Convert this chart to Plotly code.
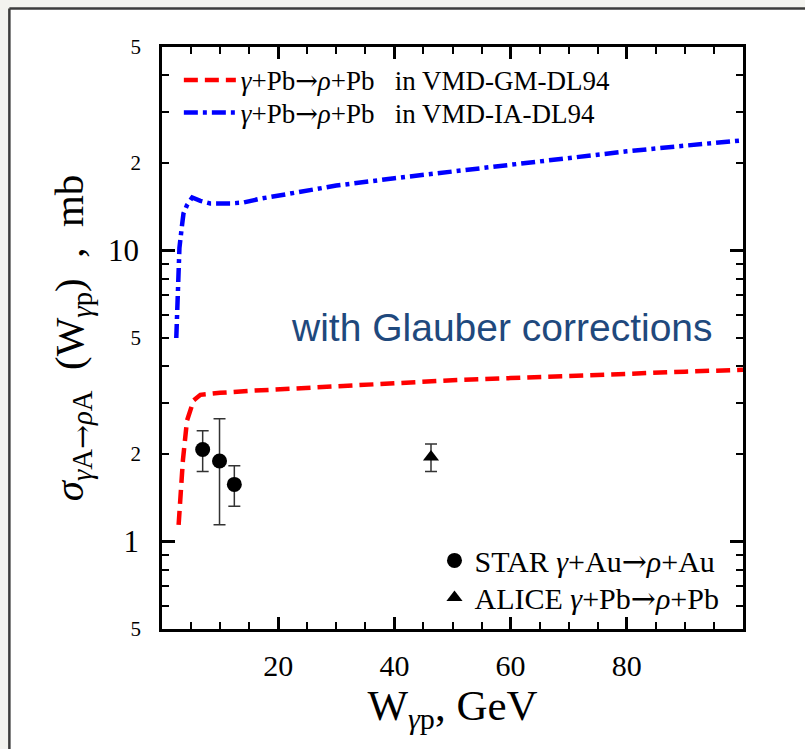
import plotly.graph_objects as go

# Theory curves: W_gamma_p (GeV) vs sigma (mb)
w_gm = [2.86, 3.0, 3.27, 3.6, 4.3, 5.0, 5.44, 6.6, 8.0, 10, 15, 20, 25, 30, 40, 50, 60, 70, 80, 90, 100]
sig_gm = [1.14, 1.25, 1.46, 1.90, 2.60, 2.92, 3.05, 3.19, 3.22, 3.24, 3.29, 3.33, 3.37, 3.42, 3.50, 3.58, 3.64, 3.71, 3.77, 3.83, 3.89]

w_ia = [2.46, 2.7, 3.0, 3.4, 3.7, 4.3, 5.2, 6.6, 8.3, 11.75, 14, 16.9, 20, 25.5, 30, 40, 50, 60, 70, 80, 90, 100]
sig_ia = [5.0, 7.0, 10.2, 12.0, 13.4, 14.3, 15.2, 14.8, 14.5, 14.5, 14.6, 15.05, 15.4, 16.1, 16.7, 17.7, 18.7, 19.7, 20.8, 21.9, 22.9, 23.9]

# Measurements
w_star = [7.0, 9.9, 12.45]
sig_star = [2.07, 1.89, 1.57]
err_star = [0.33, 0.75, 0.25]

w_alice = [46.3]
sig_alice = [1.95]
err_alice = [0.21]

# Axis tick values / labels
x_major = [20, 40, 60, 80]
y_major = [1, 10]
y_major_text = ["1", "10"]
y_minor = [0.6, 0.7, 0.8, 0.9, 2, 3, 4, 5, 6, 7, 8, 9, 20, 30, 40]
y_small = [0.5, 2, 5, 20, 50]
y_small_text = ["5", "2", "5", "2", "5"]

SERIF = "Liberation Serif"
ARROW = "<span style=\"font-family:DejaVu Serif\">→</span>"


def reaction(a):
    return "<i>γ</i>+" + a + ARROW + "<i>ρ</i>+" + a


fig = go.Figure()

fig.add_trace(go.Scatter(
    x=w_gm, y=sig_gm, mode="lines",
    line=dict(color="#ff0000", width=4.5, dash="14px,7px"),
    name=reaction("Pb") + "&nbsp;&nbsp; in VMD-GM-DL94",
    legend="legend", showlegend=True,
))
fig.add_trace(go.Scatter(
    x=w_ia, y=sig_ia, mode="lines",
    line=dict(color="#0000ff", width=4.5, dash="14px,5px,4px,5px"),
    name=reaction("Pb") + "&nbsp;&nbsp; in VMD-IA-DL94",
    legend="legend3", showlegend=True,
))
fig.add_trace(go.Scatter(
    x=w_star, y=sig_star, mode="markers", yaxis="y2",
    marker=dict(symbol="circle", size=15, color="black"),
    error_y=dict(type="data", array=err_star, color="#333333", thickness=1.5, width=6),
    name="STAR " + reaction("Au"),
    legend="legend2", showlegend=True,
))
fig.add_trace(go.Scatter(
    x=w_alice, y=sig_alice, mode="markers", yaxis="y2",
    marker=dict(symbol="triangle-up", size=14, color="black"),
    error_y=dict(type="data", array=err_alice, color="#333333", thickness=1.5, width=6),
    name="ALICE " + reaction("Pb"),
    legend="legend4", showlegend=True,
))

yr = [-0.30103, 1.69897]

line_legend = dict(xanchor="left", yanchor="middle", bgcolor="rgba(0,0,0,0)",
                   borderwidth=0, itemwidth=52, font=dict(family=SERIF, size=27))
mark_legend = dict(xanchor="left", yanchor="middle", bgcolor="rgba(0,0,0,0)",
                   borderwidth=0, font=dict(family=SERIF, size=30))

# Frame around the page panel
px_l, px_r, px_t, px_b = -0.2627, 1.3, 1.0663, -0.35

fig.update_layout(
    width=805, height=749,
    showlegend=True,
    margin=dict(l=162, r=62, t=47, b=120),
    paper_bgcolor="white",
    plot_bgcolor="white",
    font=dict(family=SERIF, color="black"),
    xaxis=dict(
        range=[0, 100], showline=True, linewidth=2.5, linecolor="black", mirror="ticks",
        showgrid=False, zeroline=False,
        tickmode="array", tickvals=x_major, ticks="inside", ticklen=12, tickwidth=2.5,
        tickcolor="black", tickfont=dict(family=SERIF, size=30), ticklabelstandoff=8,
        minor=dict(dtick=5, tick0=0, ticks="inside", ticklen=7, tickwidth=1.5, tickcolor="black"),
        title=dict(text="W<sub><i>γ</i>p</sub>, GeV", font=dict(family=SERIF, size=43), standoff=10),
    ),
    yaxis=dict(
        type="log", range=yr, showline=True, linewidth=2.5, linecolor="black", mirror="ticks",
        showgrid=False, zeroline=False,
        tickmode="array", tickvals=y_major, ticktext=y_major_text,
        ticks="inside", ticklen=13, tickwidth=2.5, tickcolor="black",
        tickfont=dict(family=SERIF, size=31), ticklabelstandoff=14,
        minor=dict(tickmode="array", tickvals=y_minor, ticks="inside", ticklen=7,
                   tickwidth=1.5, tickcolor="black"),
        title=dict(text="<i>σ</i><sub><i>γ</i>A" + ARROW + "<i>ρ</i>A</sub>&nbsp; (W<sub><i>γ</i>p</sub>)&nbsp; ,&nbsp; mb",
                   font=dict(family=SERIF, size=41), standoff=12),
    ),
    yaxis2=dict(
        type="log", range=yr, overlaying="y", side="left", showline=False,
        showgrid=False, zeroline=False, ticks="",
        tickmode="array", tickvals=y_small, ticktext=y_small_text,
        tickfont=dict(family=SERIF, size=21), ticklabelstandoff=20,
    ),
    legend=dict(x=0.029, y=0.9426, **line_legend),
    legend3=dict(x=0.029, y=0.8865, **line_legend),
    legend2=dict(x=0.469, y=0.1179, **mark_legend),
    legend4=dict(x=0.469, y=0.0543, **mark_legend),
    annotations=[dict(
        text="with Glauber corrections", xref="paper", yref="paper",
        x=0.585, y=0.518, xanchor="center", yanchor="middle", showarrow=False,
        font=dict(family="Liberation Sans", size=39, color="#1f497d"),
    )],
    shapes=[
        dict(type="rect", xref="paper", yref="paper", x0=-0.4, x1=px_l, y0=px_b, y1=1.3,
             fillcolor="#f3f3ef", line=dict(width=0), layer="below"),
        dict(type="rect", xref="paper", yref="paper", x0=-0.4, x1=px_r, y0=px_t, y1=1.3,
             fillcolor="#f3f3ef", line=dict(width=0), layer="below"),
        dict(type="line", xref="paper", yref="paper", x0=px_l, x1=px_l, y0=px_b, y1=px_t,
             line=dict(color="#3c3c3c", width=2.5), layer="below"),
        dict(type="line", xref="paper", yref="paper", x0=px_l, x1=px_r, y0=px_t, y1=px_t,
             line=dict(color="#3c3c3c", width=2.5), layer="below"),
    ],
)

fig.write_html("out.html")
